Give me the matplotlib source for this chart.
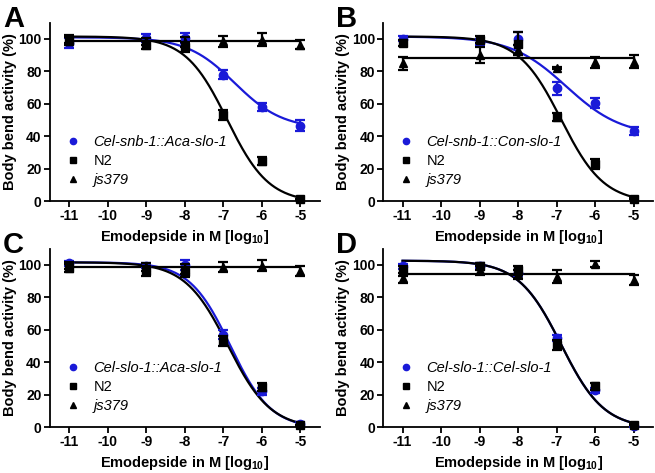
import matplotlib
matplotlib.use("Agg")
import matplotlib.pyplot as plt
from matplotlib.lines import Line2D
import numpy as np

plt.rcParams["font.family"] = ["Liberation Sans", "DejaVu Sans"]
plt.rcParams["mathtext.fontset"] = "custom"
plt.rcParams["mathtext.bf"] = "Liberation Sans:bold"
plt.rcParams["mathtext.rm"] = "Liberation Sans:bold"
plt.rcParams["mathtext.default"] = "bf"

BLUE = "#1a1ad8"
BLACK = "#000000"

# emodepside concentration, log10 M
log_conc = [-11, -9, -8, -7, -6, -5]

# panel labels and transgenic strain names
panel_letters = ["A", "B", "C", "D"]
strain_names = [
    "Cel-snb-1::Aca-slo-1",
    "Cel-snb-1::Con-slo-1",
    "Cel-slo-1::Aca-slo-1",
    "Cel-slo-1::Cel-slo-1",
]

# body bend activity (%) mean and SEM per panel
test_mean = [
    [97.5, 100.5, 100.5, 78, 58, 46.5],
    [100, 98, 100, 69.5, 60.5, 43],
    [101, 99.5, 100, 57, 22, 2],
    [99, 99.5, 95, 55, 22.5, 0.5],
]
test_sem = [
    [3, 2.5, 3, 3, 2.5, 3.5],
    [1.5, 2, 4, 4, 3, 2.5],
    [1.5, 1.5, 3, 2.5, 2, 1],
    [1.5, 1.5, 2, 2, 1.5, 0.5],
]
n2_mean = [
    [98.5, 96, 95, 53, 24.5, 1],
    [97.5, 99.5, 97, 52, 23, 1.5],
    [98, 96, 95.5, 53, 24.5, 1],
    [96, 99, 96.5, 50.5, 25, 1.5],
]
n2_sem = [
    [2.5, 2.5, 3, 3, 2.5, 0.5],
    [2, 2, 7, 2.5, 3, 0.5],
    [2.5, 3, 3, 3, 2.5, 0.5],
    [3, 2, 3, 3, 2, 0.5],
]
js_mean = [
    [100, 98.5, 98, 98.5, 99.5, 96.5],
    [85, 90, 93, 82, 85.5, 86],
    [99.5, 98.5, 97.5, 98.5, 99.5, 96],
    [92, 96.5, 94, 92.5, 100.5, 90.5],
]
js_sem = [
    [2.5, 2, 3, 3.5, 4, 3],
    [4, 5, 3, 0.5, 3.5, 4],
    [2, 2.5, 3, 3, 3.5, 3],
    [3, 3, 3, 4, 2, 3],
]

# fitted dose-response curves: top, bottom, logEC50, hill slope
test_fit = [
    (101, 44.5, -6.7, 0.7),
    (101.5, 40, -6.75, 0.6),
    (101.5, -1, -6.82, 0.82),
    (102.5, -1, -6.88, 0.78),
]
n2_fit = [
    (101.5, -1, -6.9, 0.8),
    (101.5, -1, -6.88, 0.78),
    (101.5, -1, -6.88, 0.78),
    (102.5, -1, -6.88, 0.78),
]
# js379 fit is a horizontal line
js_level = [98.5, 88, 98.7, 94.3]


def dose_response(x, top, bottom, logec50, hill):
    return bottom + (top - bottom) / (1 + 10 ** ((x - logec50) * hill))


W, H = 655, 473
fig = plt.figure(figsize=(W / 100, H / 100), dpi=100)

# axes boxes in pixels: left, top, width, height
boxes = [(50, 22.7, 269.5, 178.3), (383.3, 22.7, 269.5, 178.3),
         (50, 248.5, 269.5, 178.5), (383.3, 248.5, 269.5, 178.5)]

xs = np.linspace(-11, -5, 300)

for i, (l, t, w, h) in enumerate(boxes):
    ax = fig.add_axes([l / W, (H - t - h) / H, w / W, h / H])

    ax.plot(xs, dose_response(xs, *test_fit[i]), color=BLUE, lw=1.6, zorder=2)
    ax.plot(xs, dose_response(xs, *n2_fit[i]), color=BLACK, lw=1.6, zorder=3)
    ax.plot([-11, -5], [js_level[i]] * 2, color=BLACK, lw=1.6, zorder=3)

    ax.errorbar(log_conc, test_mean[i], yerr=test_sem[i], fmt="o", color=BLUE,
                ms=6, elinewidth=1.6, capsize=3.5, capthick=1.6, zorder=4, clip_on=False)
    ax.errorbar(log_conc, n2_mean[i], yerr=n2_sem[i], fmt="s", color=BLACK,
                ms=5.5, elinewidth=1.6, capsize=3.5, capthick=1.6, zorder=5, clip_on=False)
    ax.errorbar(log_conc, js_mean[i], yerr=js_sem[i], fmt="^", color=BLACK,
                ms=6, elinewidth=1.6, capsize=3.5, capthick=1.6, zorder=5, clip_on=False)

    ax.set_xlim(-11.5, -4.5)
    ax.set_ylim(0, 110)
    ax.set_xticks(range(-11, -4))
    ax.set_xticklabels([str(v) for v in range(-11, -4)])
    ax.set_yticks(range(0, 101, 20))
    for s in ["top", "right"]:
        ax.spines[s].set_visible(False)
    for s in ["left", "bottom"]:
        ax.spines[s].set_linewidth(1.3)
    ax.tick_params(width=1.3, length=4, labelsize=10, pad=2)
    for lab in ax.get_xticklabels() + ax.get_yticklabels():
        lab.set_fontweight("bold")

    ax.set_ylabel("Body bend activity (%)", fontsize=10.5, fontweight="bold", labelpad=1)
    ax.set_xlabel("Emodepside in M [log$_{10}$]", fontsize=10.5, fontweight="bold", labelpad=3)

    handles = [
        Line2D([], [], ls="none", marker="o", color=BLUE, ms=4.5),
        Line2D([], [], ls="none", marker="s", color=BLACK, ms=4.5),
        Line2D([], [], ls="none", marker="^", color=BLACK, ms=4.5),
    ]
    leg = ax.legend(handles, [strain_names[i], "N2", "js379"], loc="lower left",
                    bbox_to_anchor=(0.02, 0.02), frameon=False, fontsize=10.5,
                    handlelength=1.0, handletextpad=0.9, labelspacing=0.35,
                    borderaxespad=0.3)
    txts = leg.get_texts()
    txts[0].set_fontstyle("italic")
    txts[2].set_fontstyle("italic")

    fig.text((l - 47) / W, 1 - (t - 18) / H, panel_letters[i], fontsize=21,
             fontweight="bold", ha="left", va="top")

fig.savefig("out.png", dpi=100)
